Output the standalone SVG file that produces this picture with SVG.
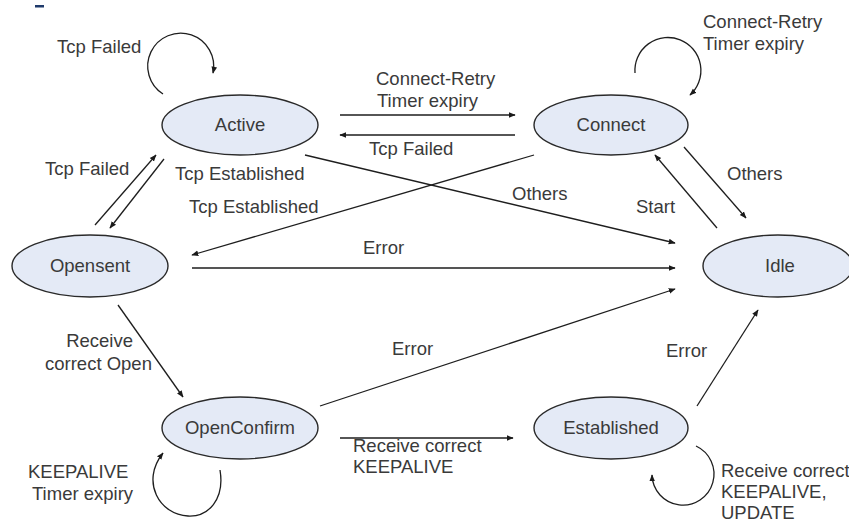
<svg xmlns="http://www.w3.org/2000/svg" width="849" height="522" viewBox="0 0 849 522">
<defs>
<marker id="ah" viewBox="0 0 10 10" refX="9" refY="5" markerWidth="7" markerHeight="7" orient="auto" markerUnits="userSpaceOnUse">
<path d="M0,1 L10,5 L0,9 z" fill="#1a1a1a"/>
</marker>
</defs>
<style>
.st ellipse{fill:#e4eaf6;stroke:#2a2a2a;stroke-width:1.4}
.st text{font-family:"Liberation Sans",Arial,sans-serif;font-size:18.5px;fill:#3a3a3a;text-anchor:middle}
.lbl{font-family:"Liberation Sans",Arial,sans-serif;font-size:18.5px;fill:#3a3a3a}
.cn path,.cn line{fill:none;stroke:#1e1e1e;stroke-width:1.3;marker-end:url(#ah)}
</style>
<rect width="849" height="522" fill="#ffffff"/>
<rect x="35" y="5" width="9" height="2.5" fill="#1f3a6b"/>
<g id="active" class="st"><ellipse cx="240" cy="125" rx="78" ry="30"/><text x="240" y="131">Active</text></g>
<g id="connect" class="st"><ellipse cx="611" cy="125" rx="77" ry="30"/><text x="611" y="131">Connect</text></g>
<g id="opensent" class="st"><ellipse cx="90" cy="266" rx="78" ry="31"/><text x="90" y="272">Opensent</text></g>
<g id="idle" class="st"><ellipse cx="778" cy="266" rx="75" ry="31"/><text x="780" y="272">Idle</text></g>
<g id="openconfirm" class="st"><ellipse cx="240" cy="428" rx="78" ry="31"/><text x="240" y="434">OpenConfirm</text></g>
<g id="established" class="st"><ellipse cx="611" cy="428" rx="77" ry="31"/><text x="611" y="434">Established</text></g>
<g id="connectors" class="cn">
<path d="M163,94 A33,33 0 1 1 213,73"/>
<path d="M635,73 A33,33 0 1 1 690,95"/>
<path d="M220,470 C225,500 208,517 188,516 C160,515 140,482 163,453"/>
<path d="M696,446 A31,31 0 1 1 652,475"/>
<line x1="340" y1="115" x2="515" y2="115"/>
<line x1="515" y1="135" x2="340" y2="135"/>
<line x1="95" y1="225" x2="156" y2="155"/>
<line x1="164" y1="159" x2="110" y2="228"/>
<line x1="534" y1="155" x2="192" y2="255"/>
<line x1="305" y1="155" x2="675" y2="243"/>
<line x1="717" y1="228" x2="655" y2="155"/>
<line x1="684" y1="147" x2="746" y2="218"/>
<line x1="192" y1="268" x2="675" y2="268" style="stroke:#555;stroke-width:2.2"/>
<line x1="320" y1="406" x2="675" y2="289"/>
<line x1="697" y1="406" x2="758" y2="310"/>
<line x1="118" y1="305" x2="183" y2="397"/>
<line x1="340" y1="438" x2="513" y2="438"/>
</g>
<g id="labels" class="lbl">
<text x="57" y="53">Tcp Failed</text>
<text x="376" y="85">Connect-Retry</text>
<text x="377" y="107">Timer expiry</text>
<text x="369" y="155">Tcp Failed</text>
<text x="703" y="28">Connect-Retry</text>
<text x="703" y="50">Timer expiry</text>
<text x="45" y="175">Tcp Failed</text>
<text x="175" y="180">Tcp Established</text>
<text x="189" y="213">Tcp Established</text>
<text x="512" y="200">Others</text>
<text x="636" y="213">Start</text>
<text x="727" y="180">Others</text>
<text x="363" y="254">Error</text>
<text x="392" y="355">Error</text>
<text x="666" y="357">Error</text>
<text x="133" y="347" text-anchor="end">Receive</text>
<text x="45" y="370">correct Open</text>
<text x="353" y="452">Receive correct</text>
<text x="353" y="473">KEEPALIVE</text>
<text x="28" y="478">KEEPALIVE</text>
<text x="32" y="500">Timer expiry</text>
<text x="721" y="477">Receive correct</text>
<text x="721" y="498">KEEPALIVE,</text>
<text x="721" y="519">UPDATE</text>
</g>
</svg>
